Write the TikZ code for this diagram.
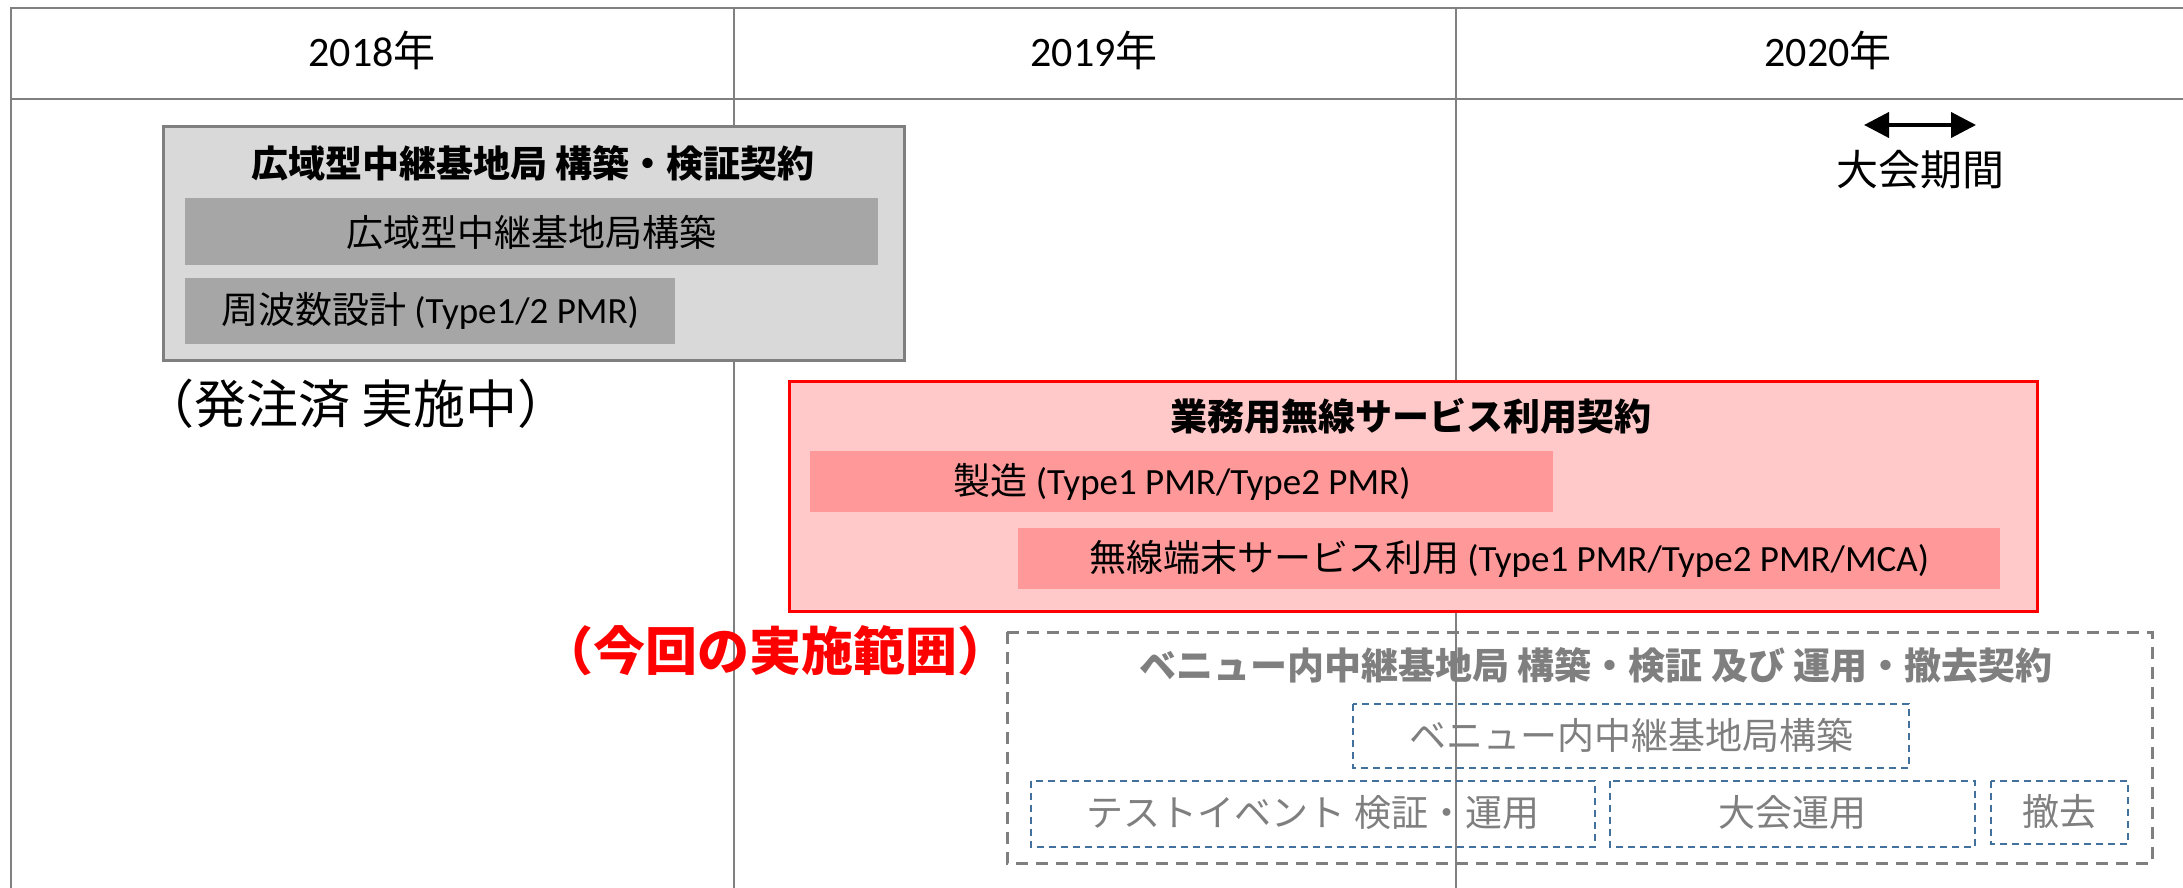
\documentclass[tikz,border=0pt]{standalone}
\usepackage{fontspec}
\setmainfont{Carlito}
\newfontfamily\jp{Noto Sans CJK JP}
\usetikzlibrary{arrows.meta}
\definecolor{tline}{HTML}{808080}
\definecolor{graybg}{HTML}{D9D9D9}
\definecolor{grayedge}{HTML}{7F7F7F}
\definecolor{graybar}{HTML}{A6A6A6}
\definecolor{pinkbg}{HTML}{FFC9C9}
\definecolor{pinkbar}{HTML}{FF9999}
\definecolor{redline}{HTML}{FF0000}
\definecolor{bluedash}{HTML}{41719C}
\definecolor{graytext}{HTML}{7F7F7F}
\begin{document}
\begin{tikzpicture}[x=0.5pt,y=-0.5pt,
  tableline/.style={draw=tline,line width=1.25pt},
  yearlbl/.style={inner sep=0pt,font=\fontsize{21pt}{25pt}\selectfont},
  bodytxt/.style={inner sep=0pt,font=\fontsize{18.5pt}{22pt}\selectfont},
  boldtxt/.style={inner sep=0pt,font=\fontsize{18.5pt}{22pt}\selectfont\bfseries},
  bigtxt/.style={inner sep=0pt,font=\fontsize{26pt}{30pt}\selectfont},
  graytxt/.style={bodytxt,text=graytext},
  outerdash/.style={draw=grayedge,line width=1.5pt,dash pattern=on 6pt off 4pt},
  innerdash/.style={draw=bluedash,line width=1pt,dash pattern=on 3.5pt off 2.5pt},
]
\useasboundingbox (0,0) rectangle (2183,888);
% table grid
\draw[tableline] (11,888) -- (11,8) -- (2183,8);
\draw[tableline] (11,99) -- (2183,99);
\draw[tableline] (734,8) -- (734,888);
\draw[tableline] (1456,8) -- (1456,888);
\node[yearlbl] (y18) at (372,50) {2018{\jp 年}};
\node[yearlbl] (y19) at (1094,50) {2019{\jp 年}};
\node[yearlbl] (y20) at (1828,50) {2020{\jp 年}};
% tournament period
\coordinate (pa) at (1864,125);
\coordinate (pb) at (1976,125);
\draw[line width=2pt,{Triangle[length=12.5pt,width=12.5pt]}-{Triangle[length=12.5pt,width=12.5pt]}] (pa) -- (pb);
\node[inner sep=0pt,font=\fontsize{21pt}{25pt}\selectfont\jp] (period) at (1920,170) {大会期間};
% wide-area contract
\draw[fill=graybg,draw=grayedge,line width=1.5pt] (163,127) rectangle (904,360);
\fill[graybar] (185,198) rectangle (878,265);
\fill[graybar] (185,278) rectangle (675,344);
\node[boldtxt] (gtitle) at (533,163) {\jp 広域型中継基地局 構築・検証契約};
\node[bodytxt] (gbar1) at (531,232) {\jp 広域型中継基地局構築};
\node[bodytxt] (gbar2) at (430,311) {{\jp 周波数設計} (Type1/2 PMR)};
\node[bigtxt] (ordered) at (356,404) {\jp （発注済 実施中）};
% business radio contract
\draw[fill=pinkbg,draw=redline,line width=1.5pt] (789,381) rectangle (2037,611);
\fill[pinkbar] (810,451) rectangle (1553,512);
\fill[pinkbar] (1018,528) rectangle (2000,589);
\node[boldtxt] (rtitle) at (1411,416) {\jp 業務用無線サービス利用契約};
\node[bodytxt] (rbar1) at (1182,482) {{\jp 製造} (Type1 PMR/Type2 PMR)};
\node[bodytxt] (rbar2) at (1509,559) {{\jp 無線端末サービス利用} (Type1 PMR/Type2 PMR/MCA)};
\node[bigtxt,font=\fontsize{26pt}{30pt}\selectfont\bfseries,text=redline] (scope) at (775,651) {\jp （今回の実施範囲）};
% venue contract
\draw[outerdash] (1007,632) rectangle (2152,863);
\node[boldtxt,text=graytext] (vtitle) at (1596,665) {\jp ベニュー内中継基地局 構築・検証 及び 運用・撤去契約};
\draw[innerdash] (1353,704) rectangle (1909,768);
\draw[innerdash] (1031,781) rectangle (1595,847);
\draw[innerdash] (1610,781) rectangle (1975,847);
\draw[innerdash] (1991,781) rectangle (2128,844);
\node[graytxt] (v1) at (1631,735) {\jp ベニュー内中継基地局構築};
\node[graytxt] (v2) at (1313,813) {\jp テストイベント 検証・運用};
\node[graytxt] (v3) at (1792,813) {\jp 大会運用};
\node[graytxt] (v4) at (2059,812) {\jp 撤去};
\end{tikzpicture}
\end{document}
